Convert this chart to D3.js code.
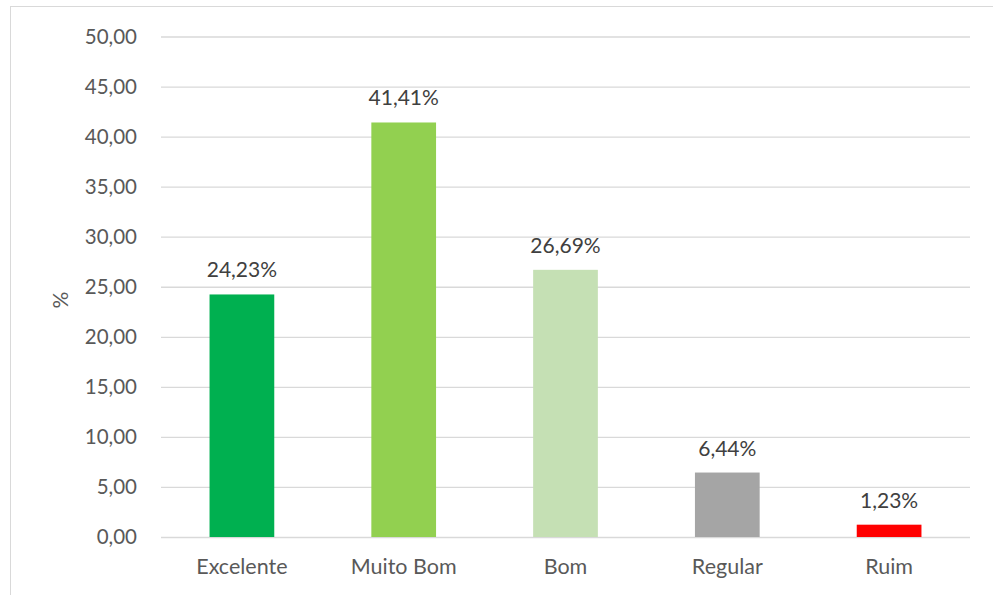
<!DOCTYPE html>
<html><head><meta charset="utf-8">
<script src="https://cdn.jsdelivr.net/npm/d3@7"></script>
<style>
body{margin:0;background:#fff;}
text{font-family:Lato,"Open Sans",sans-serif;}
</style></head>
<body><svg id="c" width="993" height="595"></svg>
<script>
const categories=["Excelente","Muito Bom","Bom","Regular","Ruim"];
const values=[24.23,41.41,26.69,6.44,1.23];
const labels=["24,23%","41,41%","26,69%","6,44%","1,23%"];
const colors=["#00B050","#92D050","#C5E0B4","#A5A5A5","#FF0000"];
const yTicks=[0,5,10,15,20,25,30,35,40,45,50];

const svg=d3.select("#c");
svg.append("rect").attr("x",10.5).attr("y",6.5).attr("width",990).attr("height",600)
  .attr("fill","none").attr("stroke","#d9d9d9").attr("stroke-width",1);

const x=d3.scaleBand().domain(categories).range([161,970]).paddingInner(0.6).paddingOuter(0.3);
const y=d3.scaleLinear().domain([0,50]).range([537,36.5]);

const fmt=d=>d.toFixed(2).replace(".",",");
const ya=svg.append("g").attr("transform","translate(161,0)")
  .call(d3.axisLeft(y).tickValues(yTicks).tickFormat(fmt).tickSize(-(970-161)).tickPadding(24));
ya.select(".domain").remove();
ya.selectAll("line").attr("stroke","#d9d9d9").attr("stroke-width",1.3);
ya.selectAll("text").attr("fill","#595959").style("font-size","20.5px").style("font-family","Lato,sans-serif");

const xa=svg.append("g").attr("transform","translate(0,537)")
  .call(d3.axisBottom(x).tickSize(0).tickPadding(22));
xa.select(".domain").remove();
xa.selectAll("text").attr("fill","#595959").style("font-size","21.5px").style("font-family","Lato,sans-serif");

svg.selectAll("rect.bar").data(values).enter().append("rect").attr("class","bar")
  .attr("x",(d,i)=>x(categories[i])).attr("width",x.bandwidth())
  .attr("y",d=>y(d)).attr("height",d=>y(0)-y(d)).attr("fill",(d,i)=>colors[i]);

svg.selectAll("text.lbl").data(values).enter().append("text").attr("class","lbl")
  .attr("x",(d,i)=>x(categories[i])+x.bandwidth()/2).attr("y",d=>y(d)-17)
  .attr("text-anchor","middle").attr("fill","#404040").style("font-size","21px")
  .text((d,i)=>labels[i]);

svg.append("text").attr("transform","translate(68,300) rotate(-90)")
  .attr("text-anchor","middle").attr("fill","#595959").style("font-size","21px").text("%");
</script></body></html>
